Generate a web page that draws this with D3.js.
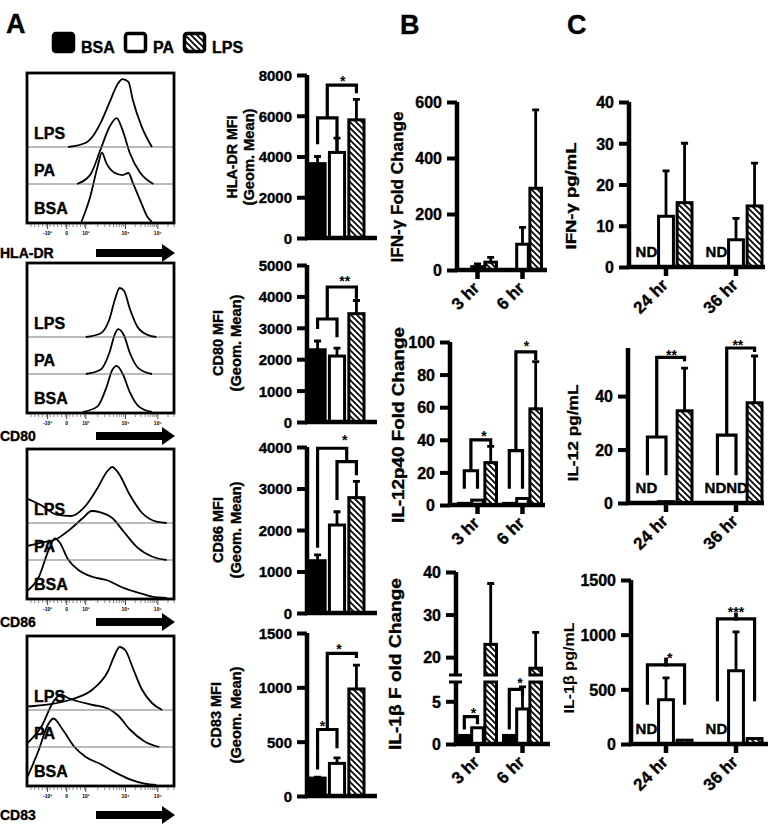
<!DOCTYPE html>
<html>
<head>
<meta charset="utf-8">
<script src="https://cdn.jsdelivr.net/npm/d3@7"></script>
<style>
body { margin: 0; background: #fff; }
text { font-family: 'Liberation Sans', Arial, sans-serif; font-weight: bold; fill: #000; }
.heavy { stroke: #000; stroke-width: 0.35px; }
</style>
</head>
<body>
<svg id="fig" width="772" height="829"></svg>
<script>
// ---- data ----
const series = ['BSA', 'PA', 'LPS']

// flow histograms: [channel 0-100, % of mode]
const hladrBSA = [[37,0],[43,36],[48,79],[51,99],[54,84],[59,71],[65,67],[69,70],[72,56],[77,31],[82,7],[85,0]]
const hladrPA  = [[34,0],[43,13],[50,49],[56,81],[61,94],[65,77],[70,44],[77,16],[86,0]]
const hladrLPS = [[28,0],[40,6],[45,16],[50,34],[56,63],[62,91],[65,97],[69,93],[72,67],[78,29],[85,0]]
const cd80BSA = [[38,0],[48,8],[54,35],[58,60],[61,66],[65,55],[70,28],[76,8],[85,0]]
const cd80PA  = [[40,0],[50,6],[56,30],[60,58],[62,64],[66,55],[70,30],[76,8],[85,0]]
const cd80LPS = [[40,0],[50,5],[56,25],[60,55],[63,70],[66,66],[70,40],[75,15],[82,3],[88,0]]
const cd86BSA = [[0,10],[8,30],[15,70],[19,85],[22,80],[28,55],[35,40],[45,30],[55,25],[65,15],[75,8],[85,2],[95,0]]
const cd86PA  = [[0,20],[10,25],[20,30],[30,45],[38,60],[44,70],[50,68],[58,60],[66,40],[75,18],[85,5],[95,0]]
const cd86LPS = [[0,35],[10,25],[20,12],[30,10],[40,25],[48,50],[55,75],[58,80],[62,72],[70,40],[78,15],[88,2],[95,0]]
const cd83BSA = [[0,10],[8,50],[14,85],[18,95],[24,80],[32,55],[40,40],[50,30],[60,18],[70,8],[80,2],[88,0]]
const cd83PA  = [[0,5],[10,30],[18,65],[23,75],[28,70],[35,65],[45,60],[55,55],[62,45],[70,25],[80,8],[90,0]]
const cd83LPS = [[0,5],[15,8],[30,15],[45,30],[55,55],[60,80],[63,90],[67,85],[72,60],[78,30],[85,10],[92,0]]
const flowTickLabels = ['-10³', '0', '10³', '10⁴', '10⁵']
const flowTickChannels = [14, 27, 40, 67, 89]

// MFI bars (panel A)
const hladrMean = [3650, 4200, 5800], hladrSD = [350, 700, 1000]
const cd80Mean = [2300, 2100, 3450], cd80SD = [280, 250, 420]
const cd86Mean = [1260, 2120, 2780], cd86SD = [140, 320, 390]
const cd83Mean = [165, 300, 985], cd83SD = [8, 50, 220]

// fold change (panel B), per time point [BSA, PA, LPS]
const timesB = ['3 hr', '6 hr']
const ifngFoldMean = [[1, 12, 28], [1, 92, 292]]
const ifngFoldSD = [[0, 10, 17], [0, 60, 280]]
const il12FoldMean = [[1, 3, 26], [1, 4, 59]]
const il12FoldSD = [[0, 0, 10], [0, 0, 29]]
const il1bFoldMean = [[1, 1.9, 23], [1, 4.1, 17.4]]
const il1bFoldSD = [[0, 0, 14.3], [0, 2.6, 8.4]]

// secreted protein (panel C), null = not detected
const timesC = ['24 hr', '36 hr']
const ifngMean = [[null, 12.3, 15.6], [null, 6.6, 14.8]]
const ifngSD = [[0, 11, 14.4], [0, 5.2, 10.4]]
const il12Mean = [[null, 0.5, 34.5], [null, null, 37.5]]
const il12SD = [[0, 0, 16], [0, 0, 17.5]]
const il1bMean = [[null, 405, 35], [null, 670, 50]]
const il1bSD = [[0, 200, 0], [0, 355, 0]]

// significance brackets: [group, from, to, level, leg1, leg2]
const hladrSig = [[0, 0, 1, 5900, 4600, 4250], [0, 0.5, 2, 7500, 5900, 7100]]
const cd80Sig = [[0, 0, 1, 3280, 2960, 2700], [0, 0.5, 2, 4300, 3280, 3900]]
const cd86Sig = [[0, 1, 2, 3650, 2720, 3320], [0, 0, 1.5, 3970, 1570, 3650]]
const cd83Sig = [[0, 0, 1, 612, 245, 440], [0, 0.5, 2, 1313, 612, 1270]]
const il12FoldSig = [[0, 0, 1, 21, 10, 10], [0, 0.5, 2, 40, 21, 36], [1, 0, 1, 33.4, 10, 10], [1, 0.5, 2, 94, 33.4, 89]]
const il1bFoldSig = [[0, 0, 1, 3.2, 1.7, 2.3], [1, 0, 1, 6.4, 1.7, 5.6]]
const il12Sig = [[0, 0, 1, 24.7, 10.4, 10.4], [0, 0.5, 2, 54.5, 24.7, 53], [1, 0, 1, 25.4, 10.4, 10.4], [1, 0.5, 2, 58, 25.4, 56.5]]
const il1bSig = [[0, 0, 1, 724, 360, 790], [0, 1, 2, 724, 790, 360], [1, 0, 1, 1144, 390, 1200], [1, 1, 2, 1144, 1200, 390]]
// stars: [group, position, level, text]
const hladrStars = [[0, 1.3, 7850, '*']]
const cd80Stars = [[0, 1.4, 4590, '**']]
const cd86Stars = [[0, 1.4, 4240, '*']]
const cd83Stars = [[0, 0.25, 670, '*'], [0, 1.1, 1380, '*']]
const il12FoldStars = [[0, 1.5, 44, '*'], [1, 1.3, 99.5, '*']]
const il1bFoldStars = [[0, 0.7, 4.0, '*'], [1, 0.8, 7.5, '*']]
const il12Stars = [[0, 1.3, 56.4, '**'], [1, 1.1, 60.3, '**']]
const il1bStars = [[0, 1.2, 815, '*'], [1, 1.0, 1230, '***']]

// ---- drawing ----
const svg = d3.select('#fig')
const defs = svg.append('defs')
defs.append('pattern')
	.attr('id', 'hatch')
	.attr('patternUnits', 'userSpaceOnUse')
	.attr('width', 6).attr('height', 6)
	.append('path')
	.attr('d', 'M0,0L6,6M-1,5L1,7M5,-1L7,1')
	.attr('stroke', '#000')
	.attr('stroke-width', 1.7)
const fills = ['#000', '#fff', 'url(#hatch)']

// panel letters
svg.append('text').attr('class', 'heavy').attr('x', 6).attr('y', 33).attr('font-size', 27).text('A')
svg.append('text').attr('class', 'heavy').attr('x', 400).attr('y', 34).attr('font-size', 27).text('B')
svg.append('text').attr('class', 'heavy').attr('x', 567).attr('y', 34).attr('font-size', 27).text('C')

// legend
const legendX = [52, 124, 183]
series.forEach((s, i) => {
	svg.append('rect')
		.attr('x', legendX[i] + 1.5).attr('y', 33.5)
		.attr('width', 20).attr('height', 18).attr('rx', 2.5)
		.attr('fill', fills[i]).attr('stroke', '#000').attr('stroke-width', 3.5)
	svg.append('text').attr('class', 'heavy').attr('x', legendX[i] + 29).attr('y', 53).attr('font-size', 16).text(s)
})

// ---- flow histograms ----
const histData = [
	[hladrBSA, hladrPA, hladrLPS],
	[cd80BSA, cd80PA, cd80LPS],
	[cd86BSA, cd86PA, cd86LPS],
	[cd83BSA, cd83PA, cd83LPS]
]
const histNames = ['HLA-DR', 'CD80', 'CD86', 'CD83']
const histTop = [73, 263, 449, 636]
const histLabelY = [253, 436, 622, 815]
const baseOffset = [149, 111, 74]   // BSA, PA, LPS baselines from panel top
const hx = d3.scaleLinear().domain([0, 100]).range([27, 174])

histNames.forEach((name, i) => {
	const top = histTop[i]
	const g = svg.append('g')
	const clipId = 'clip' + i
	defs.append('clipPath').attr('id', clipId)
		.append('rect').attr('x', 27).attr('y', top).attr('width', 147).attr('height', 150)
	const inner = g.append('g').attr('clip-path', `url(#${clipId})`)

	series.forEach((s, j) => {
		const base = top + baseOffset[j]
		const y = d3.scaleLinear().domain([0, 100]).range([base, base - 70])
		if (j > 0) {
			inner.append('line')
				.attr('x1', 27).attr('x2', 174).attr('y1', base).attr('y2', base)
				.attr('stroke', '#777').attr('stroke-width', 1)
		}
		let line = d3.line()
			.x(d => hx(d[0]))
			.y(d => y(d[1]))
			.curve(d3.curveMonotoneX)
		inner.append('path')
			.datum(histData[i][j])
			.attr('d', line)
			.attr('fill', 'none')
			.attr('stroke', '#000')
			.attr('stroke-width', 1.8)
		g.append('text').attr('class', 'heavy').attr('x', 34).attr('y', base - 8).attr('font-size', 16).text(s)
	})

	g.append('rect')
		.attr('x', 27).attr('y', top).attr('width', 147).attr('height', 150)
		.attr('fill', 'none').attr('stroke', '#000').attr('stroke-width', 2.8)

	// compensated log axis ticks
	const ty = top + 151
	const minor = []
	for (let c = 2.7; c < 40; c += 2.6) minor.push(c)
	;[[40, 67], [67, 89], [89, 112]].forEach(([a, b]) => {
		for (let k = 2; k <= 9; k++) minor.push(a + (b - a) * Math.log10(k))
	})
	g.selectAll('.minor').data(minor.filter(c => c <= 100)).enter()
		.append('line')
		.attr('x1', d => hx(d)).attr('x2', d => hx(d))
		.attr('y1', ty).attr('y2', ty + 3)
		.attr('stroke', '#555').attr('stroke-width', 0.7)
	g.selectAll('.major').data(flowTickChannels).enter()
		.append('line')
		.attr('x1', d => hx(d)).attr('x2', d => hx(d))
		.attr('y1', ty).attr('y2', ty + 5)
		.attr('stroke', '#333').attr('stroke-width', 0.9)
	g.selectAll('.flab').data(flowTickLabels).enter()
		.append('text')
		.attr('x', (d, k) => hx(flowTickChannels[k]))
		.attr('y', ty + 11)
		.attr('text-anchor', 'middle')
		.attr('font-size', 5).attr('font-weight', 'normal')
		.attr('fill', '#444')
		.text(d => d)

	// marker name with arrow
	const ly = histLabelY[i]
	g.append('text').attr('class', 'heavy').attr('x', 0).attr('y', ly + 5).attr('font-size', 14).text(name)
	g.append('path')
		.attr('d', `M96,${ly - 4}H162V${ly - 9}L175,${ly}L162,${ly + 9}V${ly + 4}H96Z`)
		.attr('fill', '#000')
})

// ---- generic bar panel ----
function barPanel(cfg) {
	const g = svg.append('g')
	const outer = d3.scaleBand().domain(cfg.groups).range(cfg.groupRange)
	const half = cfg.spread
	const inner = d3.scaleBand().domain(series)
		.range([outer.bandwidth() / 2 - half, outer.bandwidth() / 2 + half])
		.paddingInner(cfg.gap)
	const cx = (gi, s) => outer(cfg.groups[gi]) + inner(series[0]) + s * inner.step() + inner.bandwidth() / 2

	// y mapping, optionally with a broken axis
	const segs = cfg.segments
	segs.forEach(seg => {
		seg.scale = d3.scaleLinear().domain(seg.domain).range(seg.range)
	})
	const y = v => {
		if (segs.length === 1 || v < segs[1].domain[0]) return segs[0].scale(v)
		return segs[1].scale(v)
	}

	// bars
	cfg.means.forEach((row, gi) => {
		row.forEach((v, si) => {
			if (v == null) return
			const x = outer(cfg.groups[gi]) + inner(series[si])
			const w = inner.bandwidth()
			const parts = []
			if (segs.length === 2 && v >= segs[1].domain[0]) {
				parts.push([segs[0].range[0], segs[0].range[1]])
				parts.push([segs[1].range[0], segs[1].scale(v)])
			} else {
				parts.push([y(0), y(v)])
			}
			parts.forEach(([a, b]) => {
				g.append('rect')
					.attr('x', x).attr('y', Math.min(a, b))
					.attr('width', w).attr('height', Math.max(Math.abs(a - b), 0.5))
					.attr('fill', fills[si])
					.attr('stroke', '#000').attr('stroke-width', 3)
			})
			const sd = cfg.sds[gi][si]
			if (sd > 0) {
				const c = x + w / 2
				g.append('path')
					.attr('d', `M${c},${y(v)}V${y(v + sd)}M${c - 3.5},${y(v + sd)}H${c + 3.5}`)
					.attr('stroke', '#000').attr('stroke-width', 2.8).attr('fill', 'none')
			}
		})
	})

	// not-detected labels
	cfg.means.forEach((row, gi) => {
		const nd = []
		if (row[0] == null) nd.push(0)
		if (row[1] == null) nd.push(row[0] == null ? 1 : 0)
		nd.forEach((si, k) => {
			g.append('text')
				.attr('class', 'heavy')
				.attr('x', cx(gi, si) + (nd.length > 1 ? (k ? 1 : -2) : -1))
				.attr('y', y(0) - 10)
				.attr('text-anchor', 'middle')
				.attr('font-size', 15)
				.text('ND')
		})
	})

	// brackets
	;(cfg.sig || []).forEach(([gi, a, b, lvl, l1, l2]) => {
		g.append('path')
			.attr('d', `M${cx(gi, a)},${y(l1)}V${y(lvl)}H${cx(gi, b)}V${y(l2)}`)
			.attr('fill', 'none').attr('stroke', '#000').attr('stroke-width', 3.2)
	})
	;(cfg.stars || []).forEach(([gi, s, lvl, t]) => {
		g.append('text')
			.attr('x', cx(gi, s)).attr('y', y(lvl)).attr('dy', '0.55em')
			.attr('text-anchor', 'middle')
			.attr('font-size', 14).attr('font-weight', 'normal')
			.text(t)
	})

	// y axis segments: d3 axis for labels, heavy lines redrawn at its ticks
	segs.forEach(seg => {
		const ax = g.append('g')
			.attr('transform', `translate(${cfg.axisX},0)`)
			.call(d3.axisLeft(seg.scale).tickValues(seg.ticks).tickSize(10).tickSizeOuter(0).tickPadding(5).tickFormat(d3.format('d')))
		ax.attr('font-size', cfg.tickFont).attr('font-family', null)
		ax.select('.domain').remove()
		ax.selectAll('.tick line').remove()
		ax.selectAll('.tick').append('line')
			.attr('x1', 0).attr('x2', -10)
			.attr('stroke', '#000').attr('stroke-width', 4)
		ax.append('line')
			.attr('x1', 0).attr('x2', 0)
			.attr('y1', seg.range[0] + (seg === segs[0] ? 2 : 0)).attr('y2', seg.range[1])
			.attr('stroke', '#000').attr('stroke-width', 4.5)
		ax.selectAll('.tick text').attr('dy', '0.36em').attr('class', 'heavy')
	})
	if (segs.length === 2) {
		;[segs[0].range[1], segs[1].range[0]].forEach(yy => {
			g.append('line')
				.attr('x1', cfg.axisX - 7).attr('x2', cfg.axisX + 6)
				.attr('y1', yy).attr('y2', yy)
				.attr('stroke', '#000').attr('stroke-width', 3)
		})
	}

	// x axis
	const y0 = y(0)
	g.append('line')
		.attr('x1', cfg.axisX - 2).attr('x2', cfg.xEnd)
		.attr('y1', y0).attr('y2', y0)
		.attr('stroke', '#000').attr('stroke-width', 4.5)
	if (cfg.groups.length > 1) {
		cfg.groups.forEach((grp, gi) => {
			const c = outer(grp) + outer.bandwidth() / 2
			g.append('line')
				.attr('x1', c).attr('x2', c).attr('y1', y0).attr('y2', y0 + 9)
				.attr('stroke', '#000').attr('stroke-width', 4.5)
			g.append('text')
				.attr('class', 'heavy')
				.attr('transform', `translate(${c + 3},${y0 + 19}) rotate(-45)`)
				.attr('text-anchor', 'end')
				.attr('font-size', 17)
				.text(grp)
		})
	}

	// axis title
	cfg.title.forEach(([t, x, len, fs, weight]) => {
		g.append('text')
			.attr('class', weight ? null : 'heavy')
			.attr('transform', `translate(${x},${cfg.titleY}) rotate(-90)`)
			.attr('text-anchor', 'middle')
			.attr('dy', '0.35em')
			.attr('font-size', fs)
			.attr('font-weight', weight || 'bold')
			.attr('textLength', len)
			.attr('lengthAdjust', 'spacingAndGlyphs')
			.text(t)
	})
}

// panel A bars
const aCommon = { groups: [''], groupRange: [307, 367], spread: 27, gap: 0.22, axisX: 307, xEnd: 377, tickFont: 15 }
barPanel(Object.assign({}, aCommon, {
	means: [hladrMean], sds: [hladrSD], sig: hladrSig, stars: hladrStars,
	segments: [{ domain: [0, 8000], range: [238, 75], ticks: [0, 2000, 4000, 6000, 8000] }],
	title: [['HLA-DR MFI', 232, 83, 14], ['(Geom. Mean)', 249, 97, 14]], titleY: 157
}))
barPanel(Object.assign({}, aCommon, {
	means: [cd80Mean], sds: [cd80SD], sig: cd80Sig, stars: cd80Stars,
	segments: [{ domain: [0, 5000], range: [422, 265], ticks: [0, 1000, 2000, 3000, 4000, 5000] }],
	title: [['CD80 MFI', 218, 66, 14], ['(Geom. Mean)', 236, 97, 14]], titleY: 343
}))
barPanel(Object.assign({}, aCommon, {
	means: [cd86Mean], sds: [cd86SD], sig: cd86Sig, stars: cd86Stars,
	segments: [{ domain: [0, 4000], range: [613, 447], ticks: [0, 1000, 2000, 3000, 4000] }],
	title: [['CD86 MFI', 218, 66, 14], ['(Geom. Mean)', 236, 97, 14]], titleY: 530
}))
barPanel(Object.assign({}, aCommon, {
	means: [cd83Mean], sds: [cd83SD], sig: cd83Sig, stars: cd83Stars,
	segments: [{ domain: [0, 1500], range: [796, 633], ticks: [0, 500, 1000, 1500] }],
	title: [['CD83 MFI', 216, 66, 14], ['(Geom. Mean)', 236, 97, 14]], titleY: 715
}))

// panel B
const bCommon = { groups: timesB, groupRange: [455, 545], spread: 19, gap: 0.12, tickFont: 16 }
barPanel(Object.assign({}, bCommon, {
	axisX: 457, xEnd: 547,
	means: ifngFoldMean, sds: ifngFoldSD,
	segments: [{ domain: [0, 600], range: [270, 102], ticks: [0, 200, 400, 600] }],
	title: [['IFN-γ Fold Change', 397, 151, 16]], titleY: 187
}))
barPanel(Object.assign({}, bCommon, {
	axisX: 450, xEnd: 545,
	means: il12FoldMean, sds: il12FoldSD, sig: il12FoldSig, stars: il12FoldStars,
	segments: [{ domain: [0, 100], range: [505, 342], ticks: [0, 20, 40, 60, 80, 100] }],
	title: [['IL-12p40 Fold Change', 398, 196, 17]], titleY: 425
}))
barPanel(Object.assign({}, bCommon, {
	axisX: 456, xEnd: 550,
	means: il1bFoldMean, sds: il1bFoldSD, sig: il1bFoldSig, stars: il1bFoldStars,
	segments: [
		{ domain: [0, 7.26], range: [744, 682], ticks: [0, 5] },
		{ domain: [15.8, 40], range: [675, 572], ticks: [20, 30, 40] }
	],
	title: [['IL-1β F old Change', 395, 172, 17]], titleY: 664
}))

// panel C
const cCommon = { groups: timesC, groupRange: [631, 771], spread: 26, gap: 0.2, tickFont: 16 }
barPanel(Object.assign({}, cCommon, {
	axisX: 629, xEnd: 765,
	means: ifngMean, sds: ifngSD,
	segments: [{ domain: [0, 40], range: [267, 102], ticks: [0, 10, 20, 30, 40] }],
	title: [['IFN-γ pg/mL', 571, 107, 15]], titleY: 196
}))
barPanel(Object.assign({}, cCommon, {
	axisX: 628, xEnd: 764,
	means: il12Mean, sds: il12SD, sig: il12Sig, stars: il12Stars,
	segments: [{ domain: [0, 58], range: [503, 348], ticks: [0, 20, 40] }],
	title: [['IL-12 pg/mL', 573, 97, 15]], titleY: 433
}))
barPanel(Object.assign({}, cCommon, {
	axisX: 631, xEnd: 768,
	means: il1bMean, sds: il1bSD, sig: il1bSig, stars: il1bStars,
	segments: [{ domain: [0, 1500], range: [744, 580], ticks: [0, 500, 1000, 1500] }],
	title: [['IL-1β pg/mL', 569, 91, 15, 'normal']], titleY: 668
}))
</script>
</body>
</html>
